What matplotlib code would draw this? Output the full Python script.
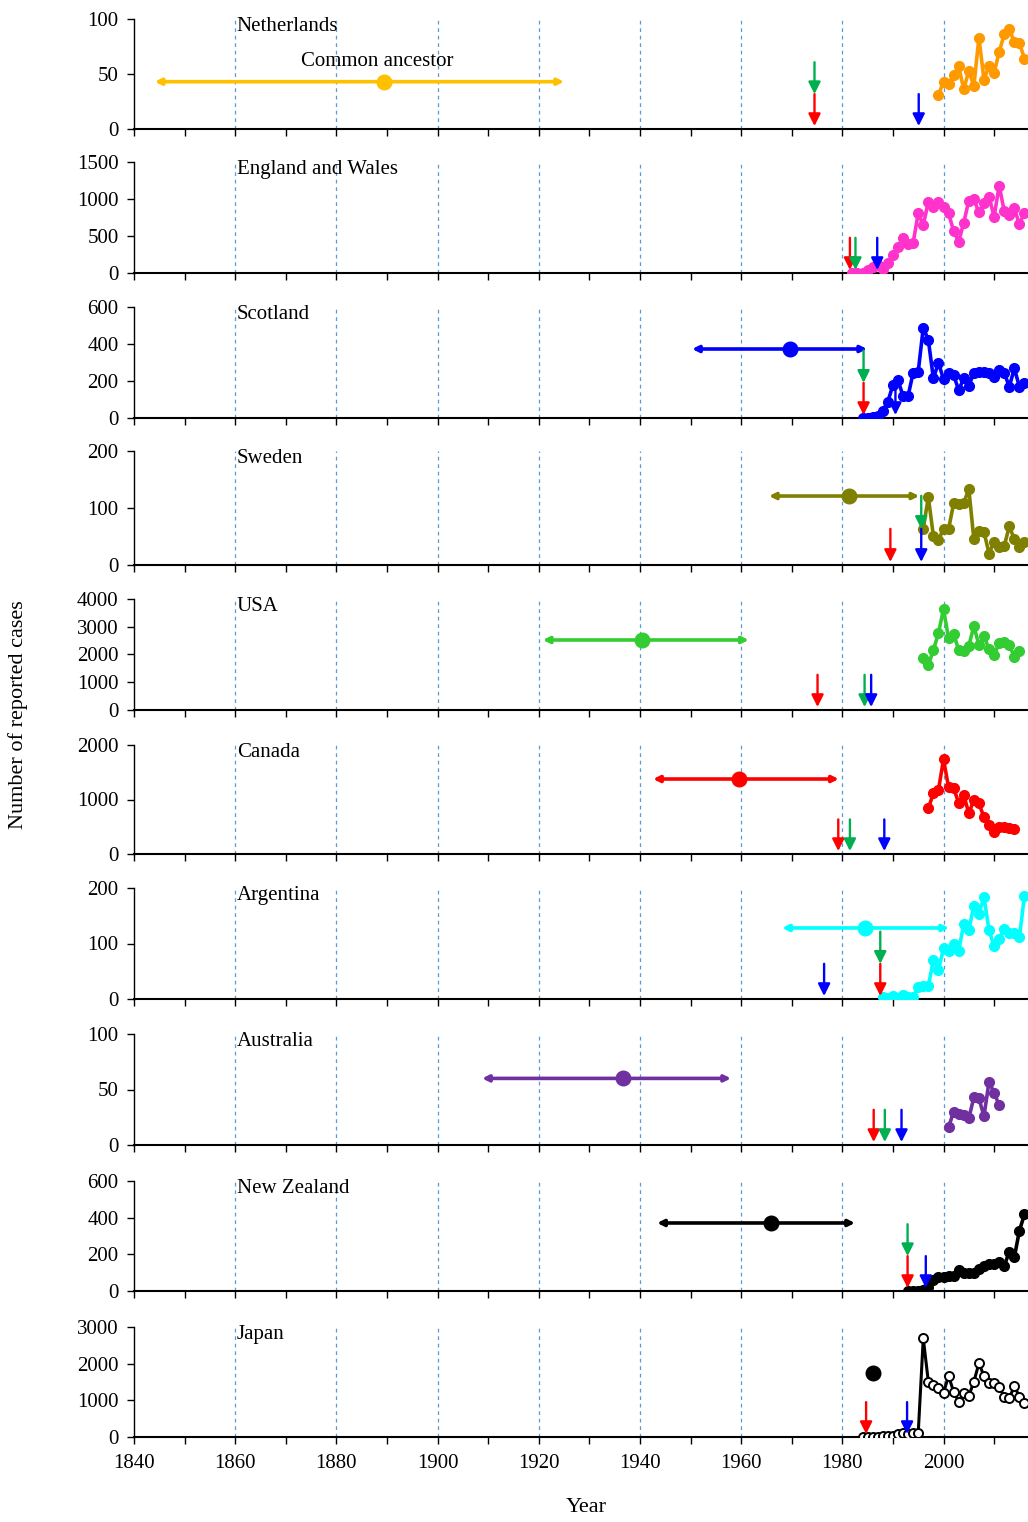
import matplotlib
matplotlib.use("Agg")
import matplotlib.pyplot as plt
import matplotlib.ticker as ticker

plt.rcParams['font.family'] = ['Liberation Serif', 'DejaVu Serif']

# ---- data ----
countries = ["Netherlands", "England and Wales", "Scotland", "Sweden", "USA",
             "Canada", "Argentina", "Australia", "New Zealand", "Japan"]

nl_years = list(range(1999, 2017))
nl_cases = [31, 43, 41, 49, 57, 36, 53, 39, 83, 45, 57, 51, 70, 86, 91, 79, 78, 64]

ew_years = list(range(1982, 2017))
ew_cases = [0, 0, 4, 40, 77, 108, 50, 131, 243, 356, 468, 387, 410, 806, 648, 963,
            896, 963, 887, 806, 567, 423, 680, 977, 995, 820, 941, 1031, 761, 1180,
            838, 784, 874, 658, 815]

sc_years = list(range(1984, 2017))
sc_cases = [2, 0, 5, 11, 40, 88, 178, 205, 119, 119, 245, 250, 488, 422, 214, 299,
            209, 245, 232, 151, 214, 173, 245, 250, 250, 245, 220, 259, 245, 169,
            268, 169, 191]

se_years = list(range(1996, 2017))
se_cases = [64, 119, 51, 44, 63, 63, 108, 107, 108, 134, 45, 60, 58, 20, 41, 32,
            33, 68, 45, 31, 41]

us_years = list(range(1996, 2016))
us_cases = [1862, 1622, 2162, 2763, 3640, 2583, 2739, 2162, 2138, 2306, 3027, 2342,
            2667, 2186, 1982, 2402, 2462, 2342, 1922, 2138]

ca_years = list(range(1997, 2015))
ca_cases = [838, 1114, 1174, 1737, 1224, 1205, 941, 1083, 746, 991, 930, 673, 532,
            409, 489, 501, 471, 453]

ar_years = list(range(1988, 2017))
ar_cases = [4, 1, 5, 1, 7, 3, 3, 22, 23, 23, 70, 52, 91, 87, 100, 87, 135, 124, 168,
            154, 183, 124, 95, 108, 127, 119, 119, 111, 186]

au_years = list(range(2001, 2012))
au_cases = [16, 30, 28, 27, 24, 43, 42, 26, 57, 47, 36]

nz_years = list(range(1993, 2017))
nz_cases = [2, 2, 2, 5, 20, 60, 75, 78, 82, 82, 115, 100, 96, 100, 118, 136, 147,
            145, 160, 136, 214, 184, 329, 418]

jp_years = list(range(1984, 2017))
jp_cases = [10, 5, 5, 10, 15, 20, 30, 90, 100, 95, 100, 100, 2691, 1509, 1418, 1327,
            1209, 1664, 1236, 963, 1209, 1118, 1509, 2009, 1664, 1464, 1482, 1372,
            1100, 1055, 1391, 1100, 918]

# common ancestor: (estimate, lower, upper, plotted height)
ancestors = [
    (1889.5, 1844.1, 1925.0, 43),
    None,
    (1969.6, 1950.3, 1984.9, 373),
    (1981.3, 1965.5, 1995.2, 121),
    (1940.4, 1920.8, 1961.5, 2523),
    (1959.6, 1942.6, 1979.3, 1376),
    (1984.5, 1968.1, 2001.1, 128),
    (1936.6, 1908.8, 1958.0, 60),
    (1965.9, 1943.4, 1982.5, 371),
    (1986.1, None, None, 1736),
]

# event arrows per country (year of each marked event)
events = [
    {"red": 1974.5, "green": 1974.5, "blue": 1995.1},
    {"red": 1981.5, "green": 1982.6, "blue": 1986.9},
    {"red": 1984.2, "green": 1984.2, "blue": 1990.5},
    {"red": 1989.5, "green": 1995.6, "blue": 1995.6},
    {"red": 1975.1, "green": 1984.4, "blue": 1985.7},
    {"red": 1979.2, "green": 1981.5, "blue": 1988.3},
    {"red": 1987.5, "green": 1987.5, "blue": 1976.4},
    {"red": 1986.2, "green": 1988.4, "blue": 1991.7},
    {"red": 1992.9, "green": 1992.9, "blue": 1996.5},
    {"red": 1984.7, "blue": 1992.8},
]

series = [(nl_years, nl_cases), (ew_years, ew_cases), (sc_years, sc_cases),
          (se_years, se_cases), (us_years, us_cases), (ca_years, ca_cases),
          (ar_years, ar_cases), (au_years, au_cases), (nz_years, nz_cases),
          (jp_years, jp_cases)]

ytops = [100, 1500, 600, 200, 4000, 2000, 200, 100, 600, 3000]
ysteps = [50, 500, 200, 100, 1000, 1000, 100, 50, 200, 1000]

colors = ["#FF9900", "#FF33CC", "#0000FF", "#808000", "#33CC33",
          "#FF0000", "#00FFFF", "#7030A0", "#000000", "#000000"]
anc_colors = ["#FFC000", None, "#0000FF", "#808000", "#33CC33",
              "#FF0000", "#00FFFF", "#7030A0", "#000000", "#000000"]
arrow_colors = {"red": "#FF0000", "green": "#00B050", "blue": "#0000FF"}

# panel pixel extents (top, bottom)
panel_px = [(19, 129), (162, 273), (307, 418), (451, 565), (599, 710),
            (745, 854), (888, 999), (1034, 1145), (1181, 1291), (1327, 1437)]

W, H = 1028, 1522
fig = plt.figure(figsize=(W / 100, H / 100), dpi=100)

left_px = 134
for i, name in enumerate(countries):
    t, b = panel_px[i]
    ax = fig.add_axes([left_px / W, 1 - b / H, (W - left_px) / W, (b - t) / H])
    ax.set_xlim(1840, 2016.7)
    ax.set_ylim(0, ytops[i])

    for yr in range(1860, 2001, 20):
        ax.axvline(yr, color="#5B9BD5", lw=0.9, ls=(0, (3, 3)), zorder=1)

    yrs, vals = series[i]
    if name == "Japan":
        ax.plot(yrs, vals, color="black", lw=2.2, marker="o", ms=6.5,
                mfc="white", mec="black", mew=1.4, zorder=3)
    else:
        ax.plot(yrs, vals, color=colors[i], lw=2.6, marker="o", ms=7,
                mec=colors[i], zorder=3)

    anc = ancestors[i]
    if anc is not None:
        est, lo, hi, yv = anc
        if lo is not None:
            ax.annotate("", xy=(lo, yv), xytext=(hi, yv),
                        arrowprops=dict(arrowstyle="<|-|>", color=anc_colors[i],
                                        lw=2.6, mutation_scale=9,
                                        shrinkA=0, shrinkB=0), zorder=4)
        ax.plot([est], [yv], marker="o", ms=10.5, color=anc_colors[i], zorder=5)

    ev = events[i]
    for kind, yr in ev.items():
        level = 0
        if kind == "green":
            others = [v for k, v in ev.items() if k != "green"]
            if any(abs(v - yr) < 0.5 for v in others):
                level = 1
        tip = 0.027 + level * 0.29
        ax.annotate("", xy=(yr, tip), xytext=(yr, tip + 0.29),
                    xycoords=("data", "axes fraction"),
                    textcoords=("data", "axes fraction"),
                    arrowprops=dict(arrowstyle="-|>,head_length=0.6,head_width=0.3",
                                    color=arrow_colors[kind],
                                    lw=1.7, mutation_scale=12,
                                    shrinkA=0, shrinkB=0), zorder=6)

    ax.text(0.115, 0.93, name, transform=ax.transAxes, fontsize=15,
            ha="left", va="center")
    if name == "Netherlands":
        ax.text(1888, 61, "Common ancestor", fontsize=15, ha="center", va="center")

    for s in ["top", "right"]:
        ax.spines[s].set_visible(False)
    ax.spines["left"].set_linewidth(1.0)
    ax.spines["bottom"].set_linewidth(1.5)

    ax.xaxis.set_major_locator(ticker.MultipleLocator(20))
    ax.xaxis.set_minor_locator(ticker.MultipleLocator(10))
    ax.yaxis.set_major_locator(ticker.MultipleLocator(ysteps[i]))
    ax.tick_params(axis="both", which="both", direction="out", length=5,
                   width=1.0, labelsize=15)
    ax.tick_params(axis="y", pad=6)
    if i < len(countries) - 1:
        ax.tick_params(axis="x", which="both", labelbottom=False)
    else:
        ax.xaxis.set_major_formatter(ticker.FormatStrFormatter("%d"))
        ax.tick_params(axis="x", pad=7)

fig.text(586 / W, 1 - 1508 / H, "Year", fontsize=16, ha="center", va="center")
fig.text(18 / W, 1 - 715 / H, "Number of reported cases", fontsize=16,
         ha="center", va="center", rotation=90)

fig.savefig("out.png", dpi=100)
